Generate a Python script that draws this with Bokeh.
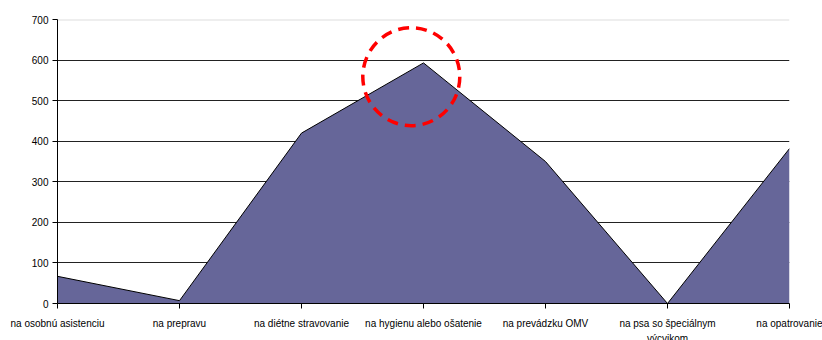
from bokeh.plotting import figure
from bokeh.models import FixedTicker, Range1d
from bokeh.embed import file_html
from bokeh.resources import INLINE

categories = ["na osobnú asistenciu", "na prepravu", "na diétne stravovanie",
              "na hygienu alebo ošatenie", "na prevádzku OMV",
              "na psa so špeciálnym\nvýcvikom", "na opatrovanie"]
values = [67, 7, 420, 593, 350, 0, 382]
y_ticks = [0, 100, 200, 300, 400, 500, 600, 700]

xs = list(range(len(categories)))

p = figure(frame_width=732, frame_height=284, output_backend="svg", toolbar_location=None,
           x_range=Range1d(0, len(categories) - 1), y_range=Range1d(0, 700),
           min_border_left=57, min_border_right=33, min_border_top=19, min_border_bottom=20)
p.outline_line_color = None
p.background_fill_color = "white"

p.varea(x=xs, y1=[0] * len(xs), y2=values, fill_color="#666699")
p.line(x=xs, y=values, line_color="black", line_width=1)

# annotation circle around the peak
p.ellipse(x=[2.9], y=[559], width=[97], height=[98], width_units="screen",
          height_units="screen", fill_alpha=0, line_color="#ff0000",
          line_width=3.5, line_dash="11 7")

p.xaxis.ticker = FixedTicker(ticks=xs)
p.xaxis.major_label_overrides = {i: c for i, c in enumerate(categories)}
p.xaxis.major_tick_out = 5
p.xaxis.major_tick_in = 0
p.xaxis.minor_tick_line_color = None
p.xaxis.axis_line_color = "black"
p.xaxis.major_tick_line_color = "black"
p.xaxis.major_label_text_font = "Liberation Sans"
p.xaxis.major_label_text_font_size = "10px"
p.xaxis.major_label_text_color = "black"
p.xaxis.major_label_standoff = 9
p.xaxis.major_label_text_line_height = 1.45

p.yaxis.ticker = FixedTicker(ticks=y_ticks)
p.yaxis.major_tick_out = 5
p.yaxis.major_tick_in = 0
p.yaxis.minor_tick_line_color = None
p.yaxis.axis_line_color = "black"
p.yaxis.major_tick_line_color = "black"
p.yaxis.major_label_text_font = "Liberation Sans"
p.yaxis.major_label_text_font_size = "10px"
p.yaxis.major_label_text_color = "black"
p.yaxis.major_label_standoff = 4

p.xgrid.grid_line_color = None
p.ygrid.ticker = FixedTicker(ticks=y_ticks[1:-1])
p.ygrid.grid_line_color = "#222222"
p.ygrid.grid_line_width = 1
p.ygrid.level = "underlay"

# light top gridline at 700
p.line(x=[0, len(categories) - 1], y=[700, 700], line_color="#dddddd", line_width=2)

open("out.html", "w").write(file_html(p, INLINE))
